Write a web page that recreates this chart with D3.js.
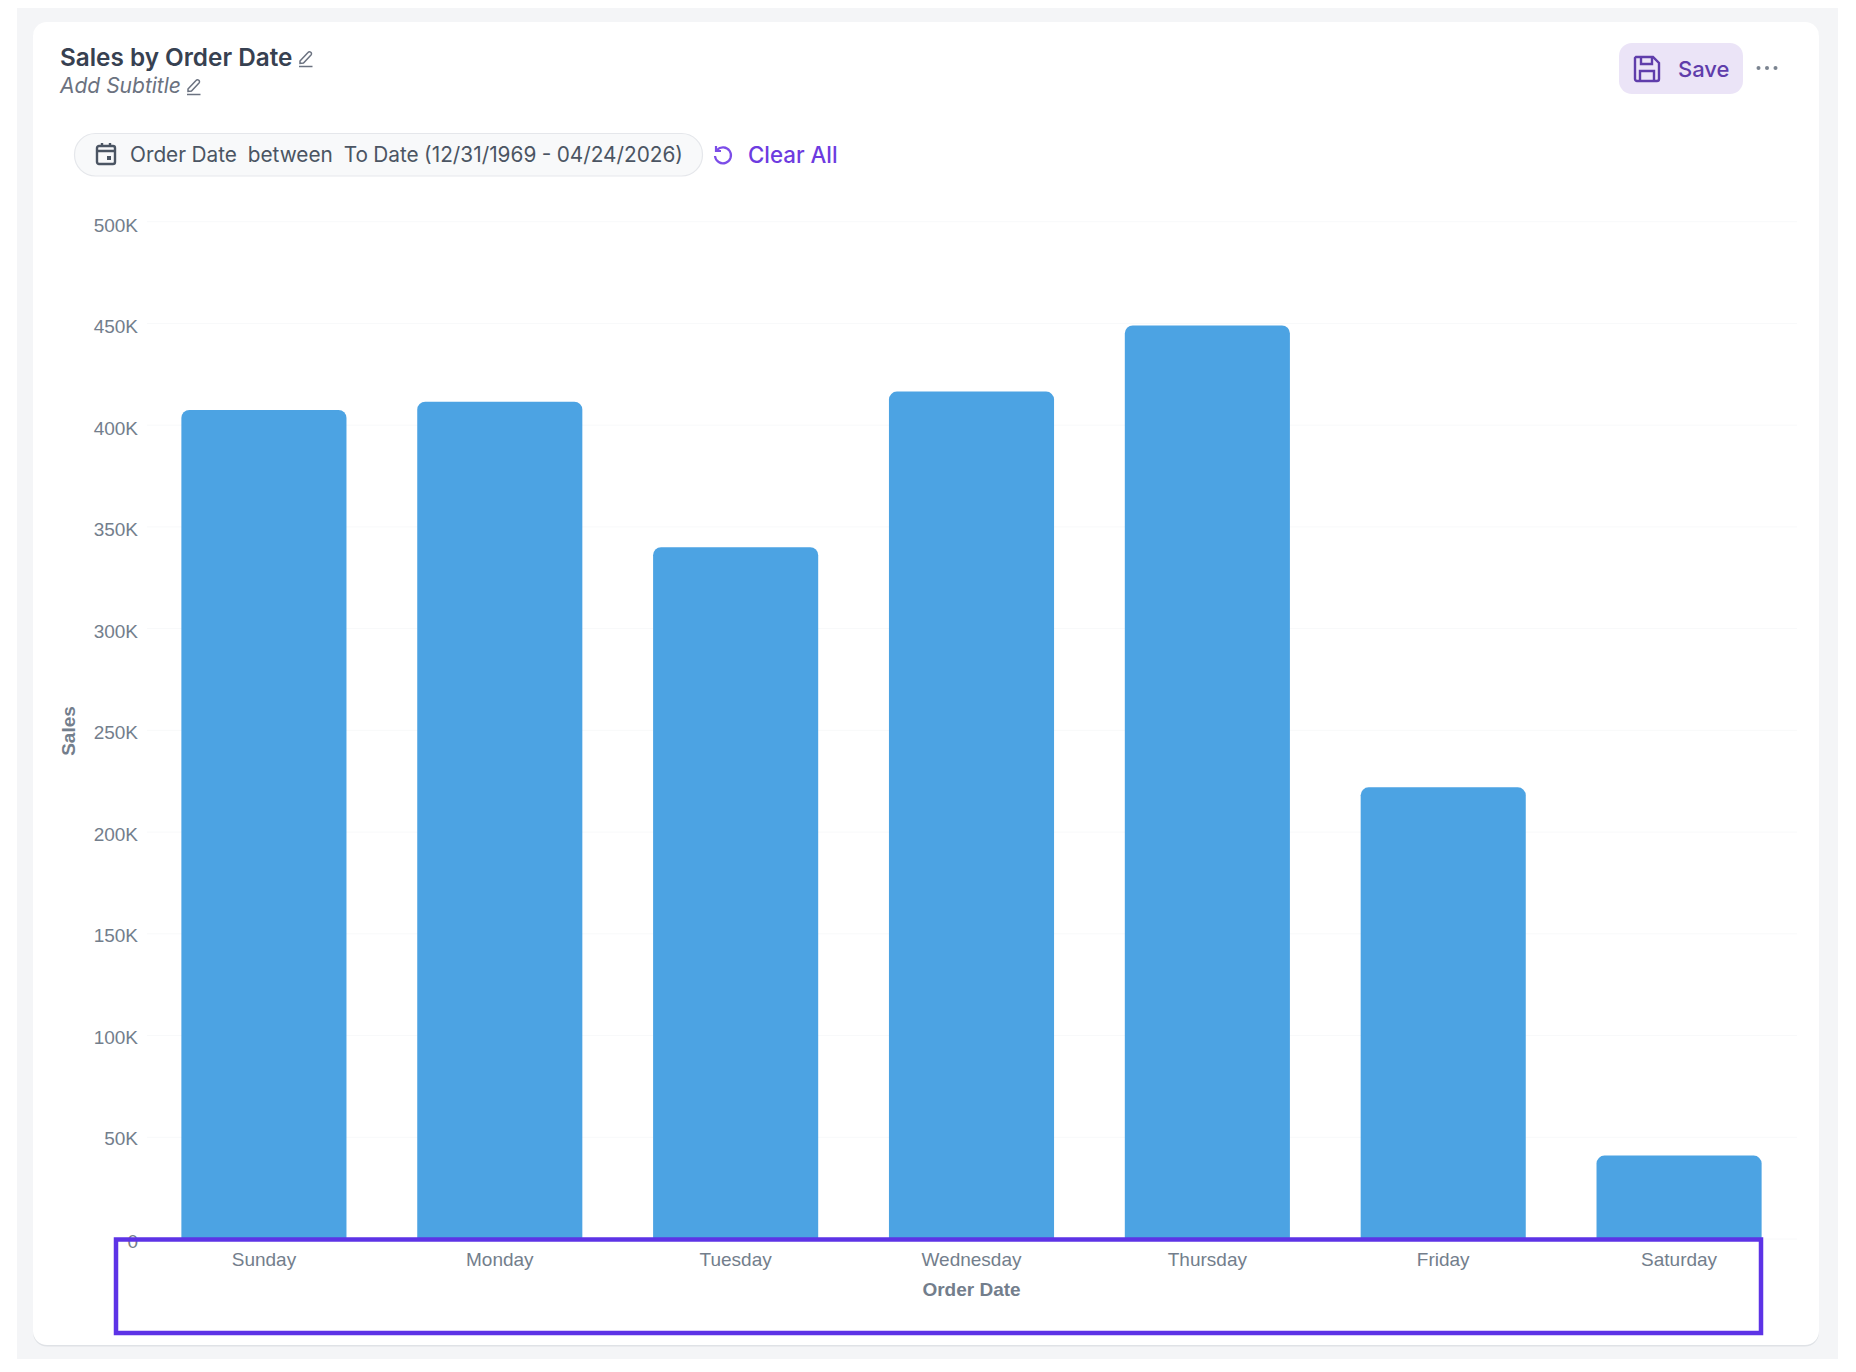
<!DOCTYPE html>
<html>
<head>
<meta charset="utf-8">
<script src="https://cdn.jsdelivr.net/npm/d3@7"></script>
<style>
  html, body { margin: 0; padding: 0; background: #fff; }
  svg { display: block; }
  .ui { font-family: Inter, sans-serif; }
  .plot text { font-family: "Liberation Sans", Arial, sans-serif; font-size: 19px; fill: #737e8c; }
</style>
</head>
<body>
<svg id="chart" width="1856" height="1372"></svg>
<script>
// Sales totals per weekday of the order date
const days = ["Sunday", "Monday", "Tuesday", "Wednesday", "Thursday", "Friday", "Saturday"];
const sales = [407500, 411500, 340000, 416500, 449000, 222000, 41000];
const yTicks = [0, 50000, 100000, 150000, 200000, 250000, 300000, 350000, 400000, 450000, 500000];

const svg = d3.select("#chart");

// Page tray and card
svg.append("rect").attr("x", 17).attr("y", 8).attr("width", 1821).attr("height", 1351).attr("fill", "#f4f5f7");
svg.append("rect").attr("x", 33).attr("y", 23.5).attr("width", 1786).attr("height", 1323).attr("rx", 14).attr("fill", "#dfe2e6");
svg.append("rect").attr("x", 33).attr("y", 22).attr("width", 1786).attr("height", 1323).attr("rx", 14).attr("fill", "#fff");

// Scales; tick labels sit on their own slightly tighter scale
const x = d3.scaleBand().domain(days).range([146, 1797]).paddingInner(0.3).paddingOuter(0.15);
const y = d3.scaleLinear().domain([0, 500000]).range([1239, 221.7]);
const yLabel = d3.scaleLinear().domain([0, 500000]).range([1239, 224.5]);

const plot = svg.append("g").attr("class", "plot");

// Horizontal gridlines
plot.append("g").selectAll("line").data(yTicks).join("line")
  .attr("x1", 147).attr("x2", 1797)
  .attr("y1", d => y(d)).attr("y2", d => y(d))
  .attr("stroke", "#f8f9fa").attr("stroke-width", 1);

// Value axis
const yAxis = d3.axisLeft(yLabel).tickValues(yTicks).tickSize(0).tickPadding(0)
  .tickFormat(d => d === 0 ? "0" : (d / 1000) + "K");
const yG = plot.append("g").attr("transform", "translate(138,0)").call(yAxis);
yG.select(".domain").remove();
yG.selectAll("text").attr("dy", "0.37em").attr("y", d => d === 0 ? 1.5 : 0);

// Bars with rounded upper corners
const r = 8;
plot.append("g").selectAll("path").data(days).join("path")
  .attr("fill", "#4ca3e3")
  .attr("d", (d, i) => {
    const x0 = x(d), x1 = x0 + x.bandwidth(), top = y(sales[i]), base = y(0);
    return `M${x0},${base}V${top + r}A${r},${r} 0 0 1 ${x0 + r},${top}H${x1 - r}A${r},${r} 0 0 1 ${x1},${top + r}V${base}Z`;
  });

// Category axis
const xAxis = d3.axisBottom(x).tickSize(0).tickPadding(0);
const xG = plot.append("g").attr("transform", "translate(0,1239)").call(xAxis);
xG.select(".domain").remove();
xG.selectAll("text").attr("y", 0).attr("dy", "0.37em").attr("transform", "translate(0,20)");

// Axis titles
plot.append("text").attr("x", 971.5).attr("y", 1295.5).attr("text-anchor", "middle")
  .attr("font-weight", 700).text("Order Date");
plot.append("text").attr("transform", "translate(75,731) rotate(-90)").attr("text-anchor", "middle")
  .attr("font-weight", 700).text("Sales");

// Highlight box around the category axis
svg.append("rect").attr("x", 116).attr("y", 1239.5).attr("width", 1645).attr("height", 93.5)
  .attr("fill", "none").attr("stroke", "#5d33e6").attr("stroke-width", 4.5);

// Header
const ui = svg.append("g").attr("class", "ui");
ui.append("text").attr("x", 60).attr("y", 66).attr("font-size", 24.3).attr("font-weight", 600).attr("fill", "#374151").text("Sales by Order Date");
ui.append("text").attr("x", 60).attr("y", 92.5).attr("font-size", 21).attr("font-style", "italic").attr("fill", "#6b7280").text("Add Subtitle");

// Pencil glyph with an underline
function pencil(px, py, color) {
  const g = ui.append("g").attr("transform", `translate(${px},${py})`).attr("fill", "none").attr("stroke", color).attr("stroke-width", 1.5);
  g.append("path").attr("d", "M1 10L9 1.5a1.6 1.6 0 0 1 3 2.6L4.5 12L1 12.5Z");
  g.append("path").attr("d", "M0 15.5H13.5");
}
pencil(299, 51, "#6b7280");
pencil(187, 79, "#6b7280");

// Filter chip
ui.append("rect").attr("x", 74.5).attr("y", 133.5).attr("width", 628).attr("height", 42.5).attr("rx", 21)
  .attr("fill", "#f8f9fa").attr("stroke", "#e5e7eb").attr("stroke-width", 1.2);
const cal = ui.append("g").attr("transform", "translate(96,143)").attr("fill", "none").attr("stroke", "#4b5563").attr("stroke-width", 2.4);
cal.append("rect").attr("x", 1).attr("y", 3).attr("width", 18).attr("height", 18).attr("rx", 2);
cal.append("path").attr("d", "M1 8H19M6 0V4M14 0V4");
cal.append("rect").attr("x", 11).attr("y", 13).attr("width", 4).attr("height", 4).attr("fill", "#4b5563").attr("stroke", "none");
ui.append("text").attr("x", 130).attr("y", 162).attr("font-size", 20.8).attr("fill", "#4b5563")
  .style("white-space", "pre").style("word-spacing", "-0.45px")
  .text("Order Date  between  To Date (12/31/1969 - 04/24/2026)");

// Clear-all control
ui.append("path").attr("transform", "translate(723,155)").attr("fill", "none").attr("stroke", "#7c4de8").attr("stroke-width", 2.2)
  .attr("d", "M-6 -5A8 8 0 1 1 -8 1M-7 -9V-4H-2");
ui.append("text").attr("x", 748).attr("y", 162.5).attr("font-size", 22.3).attr("font-weight", 500).attr("fill", "#6d3be0").text("Clear All");

// Save button
ui.append("rect").attr("x", 1619).attr("y", 43).attr("width", 124).attr("height", 51).attr("rx", 13).attr("fill", "#ebe4f7");
const disk = ui.append("g").attr("transform", "translate(1634,56)").attr("fill", "none").attr("stroke", "#5f3dab").attr("stroke-width", 2.4);
disk.append("path").attr("d", "M2 1H19L25 7V23A2 2 0 0 1 23 25H3A2 2 0 0 1 1 23V2Z");
disk.append("path").attr("d", "M7 1V8H18V1M6 25V15H20V25");
ui.append("text").attr("x", 1678).attr("y", 77).attr("font-size", 22).attr("font-weight", 500).attr("fill", "#5f3dab").text("Save");

// Overflow menu dots
ui.append("g").selectAll("circle").data([1758.5, 1767, 1775.5]).join("circle")
  .attr("cx", d => d).attr("cy", 68).attr("r", 2).attr("fill", "#7b8490");
</script>
</body>
</html>
